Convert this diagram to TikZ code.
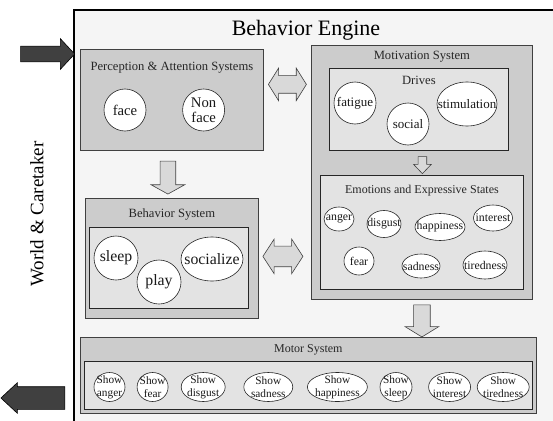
\documentclass[tikz,border=0pt]{standalone}
\usepackage{fontspec}
\setmainfont{Liberation Serif}
\usetikzlibrary{positioning,shapes.geometric,shapes.arrows,calc}

\begin{document}
\begin{tikzpicture}[x=1pt, y=-1pt,
    frame/.style={draw=black, line width=1.8pt, fill=black!4},
    sysbox/.style={draw=black!75, line width=0.8pt, fill=black!20, inner sep=0pt, anchor=north west},
    subbox/.style={draw=black!85, line width=0.8pt, fill=black!11, inner sep=0pt, anchor=north west},
    heading/.style={inner sep=0pt, text height=9pt, text depth=3pt, text=black!85, font=\fontsize{12.6}{14}\selectfont},
    blob/.style={ellipse, draw=black!85, line width=0.6pt, fill=white, inner sep=0pt},
    percfont/.style={inner sep=0pt, align=center, text=black!90, font=\fontsize{14.7}{15}\selectfont},
    drivefont/.style={inner sep=0pt, align=center, text=black!90, font=\fontsize{13}{14}\selectfont},
    behfont/.style={inner sep=0pt, align=center, text=black!90, font=\fontsize{15.8}{17}\selectfont},
    emofont/.style={inner sep=0pt, align=center, text=black!90, font=\fontsize{11.8}{13}\selectfont},
    showfont/.style={inner sep=0pt, align=center, text=black!90, font=\fontsize{11.3}{12.6}\selectfont},
    hollow/.style={draw=black!75, fill=black!15, line width=0.6pt, outer sep=0pt},
    dark/.style={single arrow, draw=black, fill=black!75, line width=0.6pt, outer sep=0pt}
  ]
  \useasboundingbox (0,0) rectangle (553,420);
  \path[frame] (74,10) rectangle (600,470);

  \node[font=\fontsize{22}{24}\selectfont, inner sep=0pt] (engine) at (306,30) {Behavior Engine};
  \node[rotate=90, font=\fontsize{19}{21}\selectfont, inner sep=0pt] (world) at (37,214) {World \& Caretaker};

  % perception
  \node[sysbox, minimum width=183pt, minimum height=101pt] (perc) at (80,49) {};
  \node[heading, below=12pt of perc.north] (perctitle) {Perception \& Attention Systems};
  \node[blob, minimum size=42pt, label={[percfont]center:face}] (face) at (125,110) {};
  \node[blob, minimum size=42pt, label={[percfont]center:Non\\face}, right=36pt of face] (nonface) {};

  % motivation
  \node[sysbox, minimum width=221pt, minimum height=254pt] (motiv) at (311,45) {};
  \node[heading, below=5pt of motiv.north] (motivtitle) {Motivation System};
  \node[subbox, minimum width=179pt, minimum height=82pt] (drives) at (329,68) {};
  \node[heading, below=7pt of drives.north] (drivestitle) {Drives};
  \node[blob, minimum size=42pt, label={[drivefont]center:fatigue}] (fatigue) at (355,103) {};
  \node[blob, minimum size=42pt, label={[drivefont]center:social}] (social) at (408,124) {};
  \node[blob, minimum width=60pt, minimum height=44pt, label={[drivefont]center:stimulation}] (stim) at (467,104) {};

  \node[subbox, minimum width=203pt, minimum height=114pt] (emo) at (320,175) {};
  \node[heading, below=9pt of emo.north, font=\fontsize{12}{13}\selectfont] (emotitle) {Emotions and Expressive States};
  \node[blob, minimum width=30pt, minimum height=24pt, label={[emofont]center:anger}] (anger) at (339,219) {};
  \node[blob, minimum width=34pt, minimum height=27pt, label={[emofont]center:disgust}] (disgust) at (384,224) {};
  \node[blob, minimum width=50pt, minimum height=27pt, label={[emofont]center:happiness}] (happy) at (440,227) {};
  \node[blob, minimum width=39pt, minimum height=26pt, label={[emofont]center:interest}] (interest) at (493,218) {};
  \node[blob, minimum width=30pt, minimum height=28pt, label={[emofont]center:fear}] (fear) at (359,261) {};
  \node[blob, minimum width=38pt, minimum height=24pt, label={[emofont]center:sadness}] (sad) at (421,266) {};
  \node[blob, minimum width=44pt, minimum height=28pt, label={[emofont]center:tiredness}] (tired) at (485,265) {};

  % behavior
  \node[sysbox, minimum width=173pt, minimum height=120pt] (behav) at (85,198) {};
  \node[heading, below=10pt of behav.north] (behavtitle) {Behavior System};
  \node[subbox, minimum width=159pt, minimum height=81pt] (behavin) at (89,227) {};
  \node[blob, minimum size=44pt, label={[behfont]center:sleep}] (sleep) at (116,258) {};
  \node[blob, minimum size=44pt, label={[behfont]center:play}] (play) at (159,282) {};
  \node[blob, minimum width=62pt, minimum height=44pt, label={[behfont]center:socialize}] (socialize) at (212,259) {};

  % motor
  \node[sysbox, minimum width=456pt, minimum height=76pt] (motor) at (80,337) {};
  \node[heading, below=6pt of motor.north, font=\fontsize{12}{13}\selectfont] (motortitle) {Motor System};
  \node[subbox, minimum width=448pt, minimum height=48pt] (motorin) at (84,361) {};
  \node[blob, minimum width=31pt, minimum height=29pt, label={[showfont]center:Show\\anger}] (sanger) at (109.5,387) {};
  \node[blob, minimum width=31pt, minimum height=29pt, label={[showfont]center:Show\\fear}, right=11.5pt of sanger] (sfear) {};
  \node[blob, minimum width=44pt, minimum height=29pt, label={[showfont]center:Show\\disgust}, right=12.5pt of sfear] (sdisgust) {};
  \node[blob, minimum width=49pt, minimum height=29pt, label={[showfont]center:Show\\sadness}, right=18pt of sdisgust] (ssad) {};
  \node[blob, minimum width=60pt, minimum height=29pt, label={[showfont]center:Show\\happiness}, right=14pt of ssad] (shappy) {};
  \node[blob, minimum width=32pt, minimum height=29pt, label={[showfont]center:Show\\sleep}, right=12pt of shappy] (ssleep) {};
  \node[blob, minimum width=42pt, minimum height=29pt, label={[showfont]center:Show\\interest}, right=16pt of ssleep] (sinterest) {};
  \node[blob, minimum width=52pt, minimum height=29pt, label={[showfont]center:Show\\tiredness}, right=6pt of sinterest] (stired) {};

  % arrows
  \node[dark, minimum height=54pt, minimum width=30pt, inner sep=7.5pt,
        single arrow head extend=7.5pt, single arrow tip angle=94] (input) at (44,54) {};
  \node[dark, shape border rotate=180, minimum height=64pt, minimum width=30pt, inner sep=11pt,
        single arrow head extend=4pt, single arrow tip angle=86] (output) at (39,398) {};
  \node[hollow, single arrow, shape border rotate=270, minimum height=33pt, minimum width=33pt, inner sep=7.5pt,
        single arrow head extend=9pt, single arrow tip angle=122] (percbehav)
        at ($(perc.south)!0.5!(behav.north) + (-4pt,-1pt)$) {};
  \node[hollow, single arrow, shape border rotate=270, minimum height=17pt, minimum width=17pt, inner sep=4pt,
        single arrow head extend=4.5pt, single arrow tip angle=87] (drivesemo)
        at ($(drives.south)!0.5!(emo.north) + (2pt,0pt)$) {};
  \node[hollow, single arrow, shape border rotate=270, minimum height=32pt, minimum width=33pt, inner sep=8pt,
        single arrow head extend=8.5pt, single arrow tip angle=117] (motivmotor)
        at ($(motiv.south)!0.5!(motiv.south |- motor.north)$) {};
  \node[hollow, double arrow, minimum height=38pt, minimum width=32pt, inner sep=8.5pt,
        double arrow head extend=7.5pt, double arrow tip angle=116] (percmotiv)
        at ($(perc.east)!0.5!(motiv.west |- perc.east) + (0pt,15.5pt)$) {};
  \node[hollow, double arrow, minimum height=40pt, minimum width=34pt, inner sep=10pt,
        double arrow head extend=7pt, double arrow tip angle=114] (behavmotiv)
        at ($(behav.east)!0.5!(motiv.west |- behav.east) + (-2pt,2pt)$) {};
\end{tikzpicture}
\end{document}
